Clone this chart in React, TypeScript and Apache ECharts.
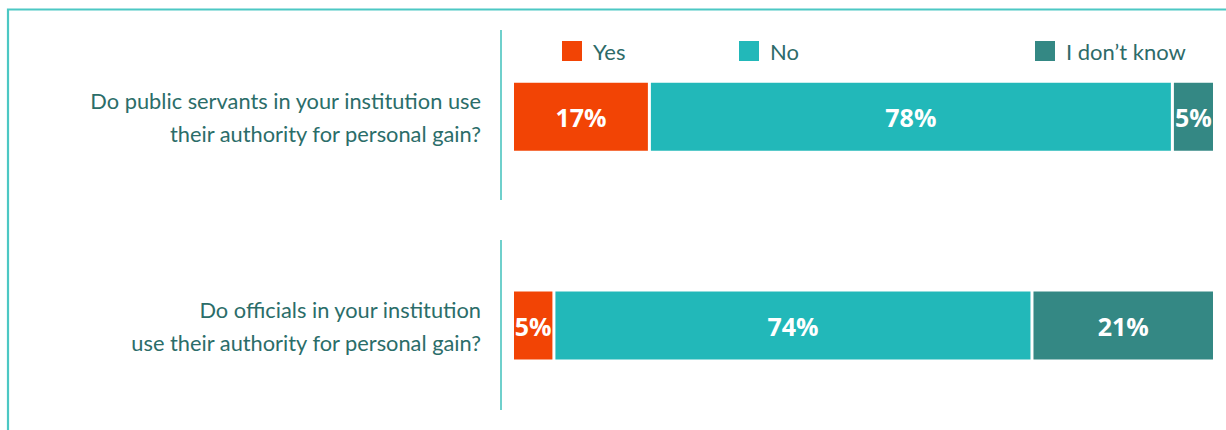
import React, { useEffect, useRef } from "react";
import * as echarts from "echarts";

const questions = [
  "Do public servants in your institution use\ntheir authority for personal gain?",
  "Do officials in your institution\nuse their authority for personal gain?",
];
const seriesNames = ["Yes", "No", "I don\u2019t know"];
// bar lengths as drawn in the picture (percent of full bar)
const yesValues = [19.5, 5.9];
const noValues = [74.5, 68.1];
const dontKnowValues = [6.0, 26.0];
// printed labels
const yesLabels = ["17%", "5%"];
const noLabels = ["78%", "74%"];
const dontKnowLabels = ["5%", "21%"];
const colors = ["#f24405", "#22b8b9", "#348884"];

export default function App() {
  const ref = useRef<HTMLDivElement>(null);
  useEffect(() => {
    document.body.style.margin = "0";
    const chart = echarts.init(ref.current!, null, { renderer: "svg" });
    const values = [yesValues, noValues, dontKnowValues];
    const labels = [yesLabels, noLabels, dontKnowLabels];
    const legendLefts = [560, 737, 1033];
    chart.setOption({
      animation: false,
      textStyle: { fontFamily: "Lato" },
      legend: seriesNames.map((n, i) => ({
        data: [n],
        left: legendLefts[i],
        top: 39,
        padding: 0,
        itemWidth: 22,
        itemHeight: 22,
        icon: "rect",
        selectedMode: false,
        textStyle: { color: "#2d6b69", fontSize: 22, fontFamily: "Lato", padding: [0, 0, 0, 5] },
      })),
      grid: { left: 512.5, right: 11.5, top: 12.25, height: 419 },
      xAxis: { type: "value", min: 0, max: 100, show: false },
      yAxis: {
        type: "category",
        data: questions,
        inverse: true,
        axisLine: { show: false },
        axisTick: { show: false },
        axisLabel: {
          margin: 31.5,
          align: "right",
          color: "#2b6d69",
          fontSize: 21.8,
          lineHeight: 33,
          fontFamily: "Lato",
        },
      },
      series: seriesNames.map((n, i) => ({
        name: n,
        type: "bar",
        stack: "total",
        barWidth: 71,
        data: values[i],
        itemStyle: { color: colors[i], borderColor: "#ffffff", borderWidth: 1.5 },
        label: {
          show: true,
          position: "inside",
          color: "#ffffff",
          fontWeight: "bold",
          fontSize: 25,
          fontFamily: "Open Sans",
          formatter: (p: any) => labels[i][p.dataIndex],
        },
      })),
      graphic: [
        {
          type: "polyline",
          shape: { points: [[8, 430], [8, 9.5], [1226, 9.5]] },
          style: { stroke: "#4cc8c4", lineWidth: 2.2, fill: null },
        },
        {
          type: "line",
          shape: { x1: 501, y1: 30, x2: 501, y2: 200 },
          style: { stroke: "#6fd0cc", lineWidth: 2 },
        },
        {
          type: "line",
          shape: { x1: 501, y1: 240, x2: 501, y2: 410 },
          style: { stroke: "#6fd0cc", lineWidth: 2 },
        },
      ],
    });
    return () => chart.dispose();
  }, []);
  return <div ref={ref} style={{ width: 1226, height: 430 }} />;
}
